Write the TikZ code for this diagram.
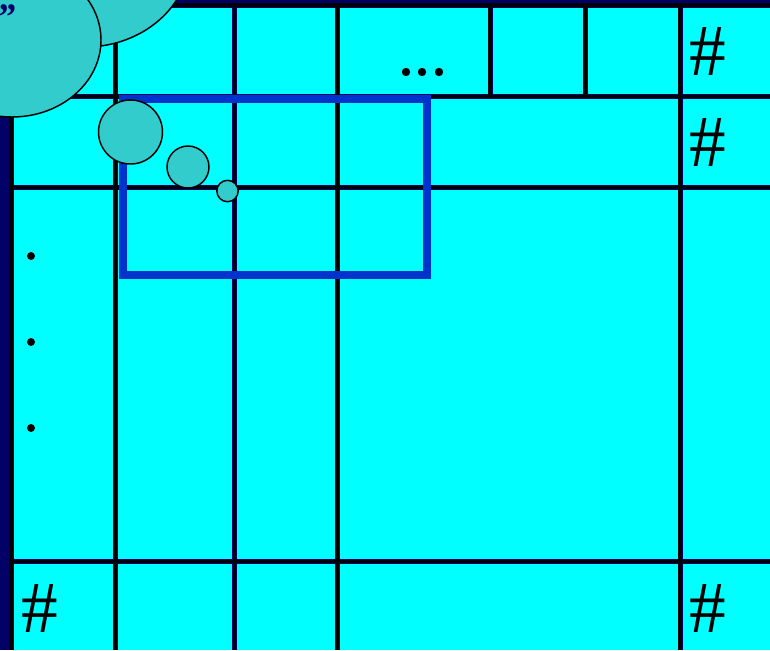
\documentclass[tikz,border=0pt]{standalone}
\usepackage{fontspec}
\setmainfont{Liberation Serif}
\definecolor{navyband}{RGB}{0,0,102}
\definecolor{cellcyan}{RGB}{0,255,255}
\definecolor{bubbleteal}{RGB}{51,204,204}
\definecolor{frameblue}{RGB}{0,51,204}
\tikzset{
	gridshade/.style={draw=navyband, line width=3.75pt},
	gridcore/.style={draw=black, line width=2.4pt},
	bubble/.style={draw=black, fill=bubbleteal, line width=1.1pt},
	hashmark/.style={inner sep=0pt, font=\fontsize{55}{55}\selectfont},
}
\begin{document}
\begin{tikzpicture}[x=0.75pt,y=0.75pt,yscale=-1,xscale=1]
	\useasboundingbox (0,0) rectangle (770,650);
	
	%Background
	\fill [navyband] (0,0) rectangle (770,650);
	\fill [cellcyan] (11,5) rectangle (770,650);
	
	%Grid lines
	\foreach \pass in {gridshade,gridcore} {
		\foreach \gy in {5,96.5,187.5,561.5}
			\draw [\pass] (11,\gy) -- (770,\gy);
		\foreach \gx in {11,115.5,234.5,337.5,680}
			\draw [\pass] (\gx,5) -- (\gx,650);
		\foreach \gx in {490,585}
			\draw [\pass] (\gx,5) -- (\gx,96.5);
	}
	
	%Blue frame
	\draw [frameblue, line width=6pt] (122.5,99) rectangle (427,275);
	
	%Dots
	\foreach \dx in {406,422,439}
		\fill (\dx,72) circle [radius=4.2];
	\foreach \dy in {256,342,428}
		\fill (31,\dy) circle [radius=4];
	
	% Text Node
	\node [hashmark] (hashTR) at (708,51) {\#};
	% Text Node
	\node [hashmark] (hashMR) at (708,142) {\#};
	% Text Node
	\node [hashmark] (hashBL) at (40,608) {\#};
	% Text Node
	\node [hashmark] (hashBR) at (708,608) {\#};
	
	%Thought bubble
	\draw [bubble] (85,-45) ellipse [x radius=105, y radius=92];
	\draw [bubble] (12,40) ellipse [x radius=89, y radius=77];
	\node [navyband, font=\bfseries\itshape\fontsize{28}{28}\selectfont, inner sep=0pt] (cloudtext) at (6,17) {”};
	\draw [bubble] (130.5,132) circle [radius=32];
	\draw [bubble] (188,167) circle [radius=21];
	\draw [bubble] (227.5,191) circle [radius=10.7];
	
\end{tikzpicture}
\end{document}
